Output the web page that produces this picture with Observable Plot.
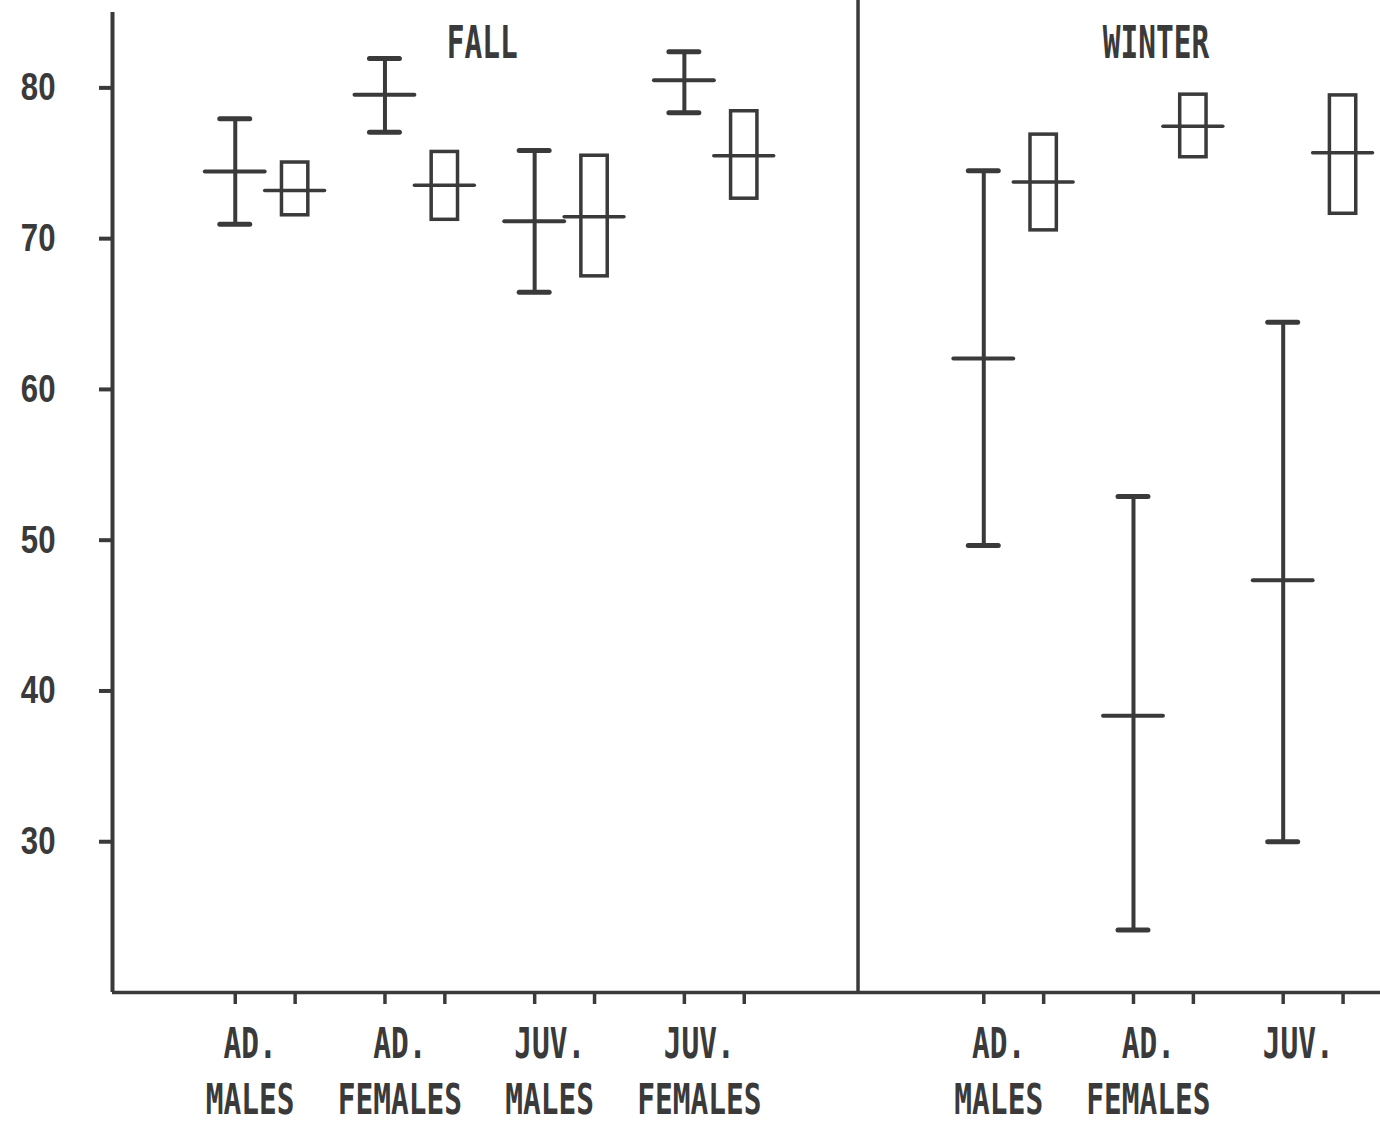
<!DOCTYPE html>
<html>
<head>
<meta charset="utf-8">
<script src="https://cdn.jsdelivr.net/npm/d3@7"></script>
<script src="https://cdn.jsdelivr.net/npm/@observablehq/plot@0.6"></script>
<style>
  html, body { margin: 0; padding: 0; background: #fff; }
  #chart svg { display: block; }
</style>
</head>
<body>
<div id="chart"></div>
<script>
// Groups, in order along the x axis (slot 4 is left empty between seasons)
const season      = ["FALL", "FALL", "FALL", "FALL", "WINTER", "WINTER", "WINTER"];
const slot        = [0, 1, 2, 3, 5, 6, 7];
const labelTop    = ["AD.", "AD.", "JUV.", "JUV.", "AD.", "AD.", "JUV."];
const labelBottom = ["MALES", "FEMALES", "MALES", "FEMALES", "MALES", "FEMALES", ""];

// I-beam series: mean with lower / upper limits
const barMean = [74.45, 79.55, 71.15, 80.5, 62.05, 38.35, 47.35];
const barLow  = [70.95, 77.05, 66.45, 78.35, 49.65, 24.15, 30.0];
const barHigh = [77.95, 81.95, 75.85, 82.4, 74.5, 52.9, 64.45];

// Box series: mean with lower / upper limits
const boxMean = [73.2, 73.55, 71.45, 75.5, 73.75, 77.45, 75.7];
const boxLow  = [71.55, 71.25, 67.5, 72.65, 70.55, 75.4, 71.65];
const boxHigh = [75.05, 75.75, 75.5, 78.45, 76.9, 79.55, 79.5];

const seasons  = ["FALL", "WINTER"];
const yTicks   = [30, 40, 50, 60, 70, 80];

const ink = "#3a3a3a";
const letterFont = "'DejaVu Sans Mono', 'Liberation Mono', monospace";
const digitFont = "'Liberation Sans', Arial, sans-serif";

// x position: each group takes 10 units, the box sits 4 units right of the I-beam
const rows = slot.map((s, i) => ({
  season: season[i],
  bar: s * 10,
  box: s * 10 + 4,
  top: labelTop[i],
  bottom: labelBottom[i],
  mean: barMean[i], lo: barLow[i], hi: barHigh[i],
  bMean: boxMean[i], bLo: boxLow[i], bHi: boxHigh[i]
}));

const xDomain = [-8.2, 76.5];
const yDomain = [20, 85];
const lastFall = d3.max(rows.filter(d => d.season === "FALL"), d => d.box);
const firstWinter = d3.min(rows.filter(d => d.season === "WINTER"), d => d.bar);
const divider = (lastFall + firstWinter) / 2 - 0.4;

const titles = seasons.map(s => {
  const r = rows.filter(d => d.season === s);
  return {season: s, x: (d3.min(r, d => d.bar) + d3.max(r, d => d.box)) / 2 - 0.5};
});
const tickPositions = rows.flatMap(d => [d.bar, d.box]);

const capHalf = 1.0, meanHalf = 2.0, boxHalf = 0.88;

const svg = Plot.plot({
  width: 1380,
  height: 1128,
  marginLeft: 112,
  marginRight: 0,
  marginTop: 12,
  marginBottom: 136,
  x: {type: "linear", domain: xDomain},
  y: {type: "linear", domain: yDomain},
  style: {fontFamily: letterFont, color: ink, background: "#fff", overflow: "visible"},
  marks: [
    // frame: left axis, baseline and season divider
    Plot.ruleX([xDomain[0]], {y1: yDomain[0], y2: yDomain[1], stroke: ink, strokeWidth: 4}),
    Plot.ruleY([yDomain[0]], {x1: xDomain[0], x2: xDomain[1], stroke: ink, strokeWidth: 3.5}),
    Plot.ruleX([divider], {y1: yDomain[0], y2: yDomain[1] + 0.8, stroke: ink, strokeWidth: 3.5}),
    Plot.axisY({ticks: yTicks, tickSize: 13, tickPadding: 44, fontSize: 39, fontWeight: "bold",
                fontFamily: digitFont, strokeWidth: 4, label: null, stroke: ink, fill: ink}),
    Plot.axisX({ticks: tickPositions, tickSize: 12, tickFormat: () => "", strokeWidth: 3.5, label: null, stroke: ink}),

    // I-beams
    Plot.ruleX(rows, {x: "bar", y1: "lo", y2: "hi", stroke: ink, strokeWidth: 4}),
    Plot.ruleY(rows, {y: "hi", x1: d => d.bar - capHalf, x2: d => d.bar + capHalf, stroke: ink, strokeWidth: 5, strokeLinecap: "round"}),
    Plot.ruleY(rows, {y: "lo", x1: d => d.bar - capHalf, x2: d => d.bar + capHalf, stroke: ink, strokeWidth: 5, strokeLinecap: "round"}),
    Plot.ruleY(rows, {y: "mean", x1: d => d.bar - meanHalf, x2: d => d.bar + meanHalf, stroke: ink, strokeWidth: 4, strokeLinecap: "round"}),

    // boxes
    Plot.rect(rows, {x1: d => d.box - boxHalf, x2: d => d.box + boxHalf, y1: "bLo", y2: "bHi", fill: "none", stroke: ink, strokeWidth: 3.5}),
    Plot.ruleY(rows, {y: "bMean", x1: d => d.box - meanHalf, x2: d => d.box + meanHalf, stroke: ink, strokeWidth: 3.5, strokeLinecap: "round"}),

    // season titles
    Plot.text(titles, {x: "x", y: yDomain[1], text: "season", dy: 31, fontSize: 44, fontWeight: "bold", fill: ink, lineAnchor: "middle"}),

    // group labels under the axis
    Plot.text(rows, {x: d => d.bar + 1.0, y: yDomain[0], text: "top", dy: 52, fontSize: 42, fontWeight: "bold", fill: ink, lineAnchor: "middle"}),
    Plot.text(rows, {x: d => d.bar + 1.0, y: yDomain[0], text: "bottom", dy: 108, fontSize: 42, fontWeight: "bold", fill: ink, lineAnchor: "middle"})
  ]
});

// narrow plotter-style lettering: compress every label horizontally about its anchor
function squeeze(root) {
  root.querySelectorAll("text").forEach(t => {
    const g = t.closest("[font-family]");
    const fam = g ? g.getAttribute("font-family") : "";
    const size = +(t.closest("[font-size]")?.getAttribute("font-size") || 44);
    const s = fam.includes("Liberation Sans") ? 0.8 : 29.5 / size;
    const tr = t.getAttribute("transform");
    if (tr) t.setAttribute("transform", `${tr} scale(${s},1)`);
    else {
      const x = +(t.getAttribute("x") || 0);
      t.setAttribute("transform", `translate(${x * (1 - s)},0) scale(${s},1)`);
    }
  });
}
squeeze(svg);

document.getElementById("chart").append(svg);
</script>
</body>
</html>
